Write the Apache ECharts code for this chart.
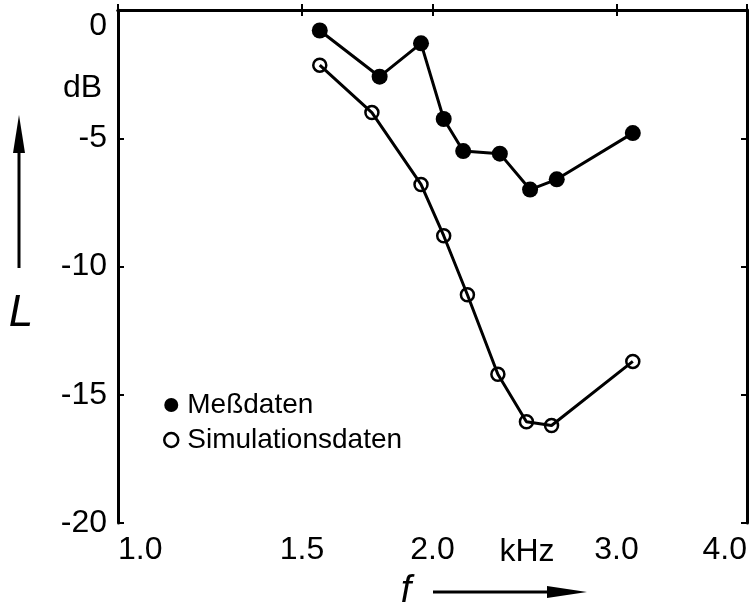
<!DOCTYPE html>
<html>
<head>
<meta charset="utf-8">
<script src="https://cdn.jsdelivr.net/npm/echarts@6/dist/echarts.min.js"></script>
<style>html,body{margin:0;padding:0;background:#fff}#c{width:751px;height:609px}</style>
</head>
<body>
<div id="c"></div>
<script>
// Data
const freqMeas  = [1.56, 1.78, 1.95, 2.05, 2.14, 2.32, 2.48, 2.63, 3.11];
const levelMeas = [-0.8, -2.6, -1.3, -4.25, -5.5, -5.6, -7.0, -6.6, -4.8];
const freqSim   = [1.56, 1.75, 1.95, 2.05, 2.16, 2.31, 2.46, 2.60, 3.11];
const levelSim  = [-2.15, -4.0, -6.8, -8.8, -11.1, -14.2, -16.05, -16.2, -13.7];
const xTicks = [1.0, 1.5, 2.0, 3.0, 4.0];
const yTicks = [0, -5, -10, -15, -20];
const seriesNames = ['Meßdaten', 'Simulationsdaten'];

const FONT = 'Liberation Sans';
const chart = echarts.init(document.getElementById('c'), null, {renderer: 'canvas'});

const xBase = {
  type: 'log', logBase: 4, min: 1, max: 4,
  axisLine: {show: true, lineStyle: {color: '#000', width: 3}},
  splitLine: {show: false}, minorTick: {show: false}
};
const yBase = {
  type: 'value', min: yTicks[yTicks.length - 1], max: yTicks[0], interval: 5,
  axisLine: {show: true, onZero: false, lineStyle: {color: '#000', width: 3}},
  splitLine: {show: false}
};

chart.setOption({
  animation: false,
  backgroundColor: '#fff',
  grid: {left: 118, top: 10, right: 4, bottom: 86, containLabel: false},
  xAxis: [
    Object.assign({}, xBase, {
      position: 'bottom',
      axisTick: {show: true, inside: true, length: 6, lineStyle: {color: '#000', width: 2}, customValues: xTicks},
      axisLabel: {
        show: true, customValues: xTicks, color: '#000', fontFamily: FONT, fontSize: 32, margin: 11,
        alignMinLabel: 'left', alignMaxLabel: 'right',
        formatter: v => Number(v).toFixed(1)
      }
    }),
    Object.assign({}, xBase, {
      position: 'top',
      axisTick: {show: true, inside: true, length: 6, lineStyle: {color: '#000', width: 2}, customValues: xTicks},
      axisLabel: {show: false}
    })
  ],
  yAxis: [
    Object.assign({}, yBase, {
      position: 'left',
      axisTick: {show: true, inside: true, length: 6, lineStyle: {color: '#000', width: 2}},
      axisLabel: {
        show: true, color: '#000', fontFamily: FONT, fontSize: 32, margin: 11,
        verticalAlignMaxLabel: 'top',
        formatter: v => String(v)
      }
    }),
    Object.assign({}, yBase, {
      position: 'right',
      axisTick: {show: true, inside: true, length: 6, lineStyle: {color: '#000', width: 2}},
      axisLabel: {show: false}
    })
  ],
  legend: {
    orient: 'vertical', left: 158, top: 386, itemWidth: 14, itemHeight: 14, itemGap: 7,
    textStyle: {color: '#000', fontFamily: FONT, fontSize: 28, lineHeight: 28, padding: [0, 0, 0, 4]},
    data: [
      {name: seriesNames[0], icon: 'circle', itemStyle: {color: '#000', borderWidth: 0}},
      {name: seriesNames[1], icon: 'circle', itemStyle: {color: '#fff', borderColor: '#000', borderWidth: 2.5}}
    ]
  },
  series: [
    {
      name: seriesNames[0], type: 'line', xAxisIndex: 0, yAxisIndex: 0,
      data: freqMeas.map((f, i) => [f, levelMeas[i]]),
      symbol: 'circle', symbolSize: 16,
      lineStyle: {color: '#000', width: 3},
      itemStyle: {color: '#000'}
    },
    {
      name: seriesNames[1], type: 'line', xAxisIndex: 0, yAxisIndex: 0,
      data: freqSim.map((f, i) => [f, levelSim[i]]),
      symbol: 'circle', symbolSize: 13,
      lineStyle: {color: '#000', width: 3},
      itemStyle: {color: 'rgba(0,0,0,0)', borderColor: '#000', borderWidth: 2.5}
    }
  ],
  graphic: [
    {type: 'text', left: 63, top: 72, style: {text: 'dB', fill: '#000', font: '32px "' + FONT + '"'}},
    {type: 'text', x: 527, y: 552, style: {text: 'kHz', fill: '#000', font: '32px "' + FONT + '"', align: 'center', verticalAlign: 'middle'}},
    {type: 'text', x: 21, y: 314, style: {text: 'L', fill: '#000', font: 'italic 44px "' + FONT + '"', align: 'center', verticalAlign: 'middle'}},
    {type: 'text', x: 406, y: 591, style: {text: 'f', fill: '#000', font: 'italic 38px "' + FONT + '"', align: 'center', verticalAlign: 'middle'}},
    // vertical arrow (L)
    {type: 'line', shape: {x1: 19, y1: 268, x2: 19, y2: 145}, style: {stroke: '#000', lineWidth: 3}},
    {type: 'polygon', shape: {points: [[19, 115], [13, 153], [25, 153]]}, style: {fill: '#000'}},
    // horizontal arrow (f)
    {type: 'line', shape: {x1: 433, y1: 592, x2: 555, y2: 592}, style: {stroke: '#000', lineWidth: 3}},
    {type: 'polygon', shape: {points: [[587, 592], [547, 586], [547, 598]]}, style: {fill: '#000'}}
  ]
});
</script>
</body>
</html>
